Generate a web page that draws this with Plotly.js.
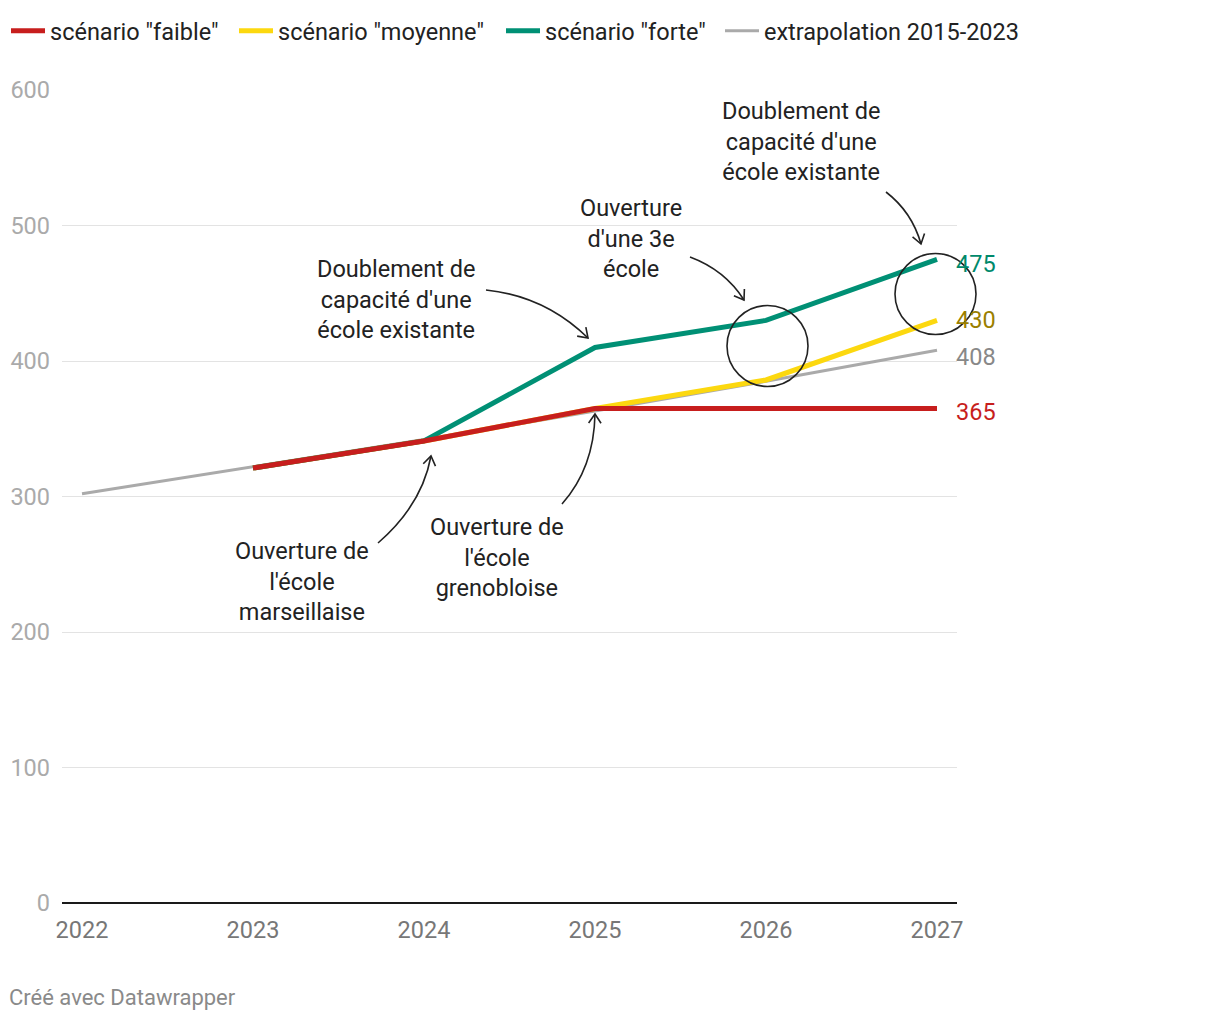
<!DOCTYPE html>
<html>
<head>
<meta charset="utf-8">
<script src="https://cdn.plot.ly/plotly-3.0.1.min.js"></script>
<style>
  html, body { margin: 0; padding: 0; background: #fff; }
  #chart { width: 1220px; height: 1020px; }
</style>
</head>
<body>
<div id="chart"></div>
<script>
// ---------- data ----------
const years = [2022, 2023, 2024, 2025, 2026, 2027];
const yearLabels = ["2022", "2023", "2024", "2025", "2026", "2027"];

const scenarioYears = [2023, 2024, 2025, 2026, 2027];
const faible   = [321, 341, 365, 365, 365];
const moyenne  = [321, 341, 365, 386, 430];
const forte    = [321, 341, 410, 430, 475];
const extrapolation = [302, 322, 342, 363, 385, 408];

const yTicks = [0, 100, 200, 300, 400, 500, 600];

const seriesNames = ['scénario "faible"', 'scénario "moyenne"', 'scénario "forte"', 'extrapolation 2015-2023'];
const endLabels = ["365", "430", "475", "408"];

const noteTexts = [
  "Doublement de<br>capacité d'une<br>école existante",
  "Ouverture<br>d'une 3e<br>école",
  "Doublement de<br>capacité d'une<br>école existante",
  "Ouverture de<br>l'école<br>marseillaise",
  "Ouverture de<br>l'école<br>grenobloise"
];

// ---------- geometry helpers (pixel -> paper) ----------
const M = { l: 62, r: 263, t: 90, b: 117, autoexpand: false };
const W = 1220, H = 1020;
const plotW = W - M.l - M.r, plotH = H - M.t - M.b;
const xRange = [2022 - 20 / 171, 2027 + 20 / 171];
const yRange = [0, 600];
const px = p => (p - M.l) / plotW;
const py = p => (H - M.b - p) / plotH;

const COLORS = { faible: "#c71e1d", moyenne: "#fcd80f", forte: "#009075", extra: "#aaaaaa" };
const LABELCOLORS = ["#c71e1d", "#9b7f00", "#00896b", "#888888"];
const FONT = "Roboto, 'Noto Sans', sans-serif";

// ---------- traces ----------
const traces = [
  { x: years, y: extrapolation, name: seriesNames[3], legend: "legend4",
    mode: "lines", line: { color: COLORS.extra, width: 3 } },
  { x: scenarioYears, y: moyenne, name: seriesNames[1], legend: "legend2",
    mode: "lines", line: { color: COLORS.moyenne, width: 5 } },
  { x: scenarioYears, y: forte, name: seriesNames[2], legend: "legend3",
    mode: "lines", line: { color: COLORS.forte, width: 5 } },
  { x: scenarioYears, y: faible, name: seriesNames[0], legend: "legend",
    mode: "lines", line: { color: COLORS.faible, width: 5 } }
];
traces.forEach(t => { t.hoverinfo = "skip"; t.line.shape = "linear"; });

// ---------- annotations ----------
const annotations = [];
const lastVals = [faible[4], moyenne[4], forte[4], extrapolation[5]];
const labelNudge = [-4, 0, -5, -7];
lastVals.forEach((v, i) => {
  annotations.push({
    x: years[5], y: v, xref: "x", yref: "y", text: endLabels[i],
    showarrow: false, xanchor: "left", yanchor: "middle", xshift: 17, yshift: labelNudge[i],
    font: { family: FONT, size: 23.5, color: LABELCOLORS[i] }
  });
});

const notePos = [[801, 141], [631, 239], [396, 299], [302, 581], [497, 557]];
notePos.forEach((p, i) => {
  annotations.push({
    x: px(p[0]), y: py(p[1]), xref: "paper", yref: "paper", text: noteTexts[i],
    showarrow: false, xanchor: "center", yanchor: "middle", align: "center",
    font: { family: FONT, size: 23.5, color: "#222222" }
  });
});

annotations.push({
  x: px(7), y: py(997), xref: "paper", yref: "paper", text: "Créé avec Datawrapper",
  showarrow: false, xanchor: "left", yanchor: "middle",
  font: { family: FONT, size: 22, color: "#8a8a8a" }
});

// ---------- shapes: curved arrows + circles ----------
const arrows = [
  // [start, control, end] in pixels
  [[886, 192], [912, 212], [921, 244]],
  [[690, 257], [725, 270], [744, 300]],
  [[486, 290], [545, 296], [588, 338]],
  [[378, 543], [422, 505], [431, 456]],
  [[562, 504], [594, 468], [595, 414]]
];
const shapes = [];
const lineStyle = { color: "#222222", width: 1.6 };
arrows.forEach(a => {
  const [s, c, e] = a;
  shapes.push({
    type: "path", xref: "paper", yref: "paper", layer: "above",
    path: `M ${px(s[0])},${py(s[1])} Q ${px(c[0])},${py(c[1])} ${px(e[0])},${py(e[1])}`,
    line: lineStyle
  });
  let vx = e[0] - c[0], vy = e[1] - c[1];
  const len = Math.hypot(vx, vy); vx /= len; vy /= len;
  const L = 11, ang = 0.6;
  const pts = [ang, -ang].map(t => {
    const rx = -(vx * Math.cos(t) - vy * Math.sin(t));
    const ry = -(vx * Math.sin(t) + vy * Math.cos(t));
    return [e[0] + rx * L, e[1] + ry * L];
  });
  shapes.push({
    type: "path", xref: "paper", yref: "paper", layer: "above",
    path: `M ${px(pts[0][0])},${py(pts[0][1])} L ${px(e[0])},${py(e[1])} L ${px(pts[1][0])},${py(pts[1][1])}`,
    line: lineStyle
  });
});

const circles = [[767.5, 346, 40.5], [935.5, 294, 40.5]];
circles.forEach(c => {
  shapes.push({
    type: "circle", xref: "paper", yref: "paper", layer: "above",
    xsizemode: "pixel", ysizemode: "pixel",
    xanchor: px(c[0]), yanchor: py(c[1]),
    x0: -c[2], x1: c[2], y0: -c[2], y1: c[2],
    line: { color: "#222222", width: 1.6 }
  });
});

// ---------- layout ----------
const legendBase = {
  orientation: "h", xanchor: "left",
  y: 1 + (M.t - 9) / plotH, yanchor: "top",
  font: { family: FONT, size: 23.5, color: "#222" },
  itemwidth: 34, bgcolor: "rgba(0,0,0,0)"
};
const legendLefts = [6, 234, 501, 720];

const layout = {
  width: W, height: H,
  margin: M,
  paper_bgcolor: "#ffffff", plot_bgcolor: "#ffffff",
  font: { family: FONT, color: "#222" },
  showlegend: true,
  legend:  Object.assign({}, legendBase, { x: px(legendLefts[0]) }),
  legend2: Object.assign({}, legendBase, { x: px(legendLefts[1]) }),
  legend3: Object.assign({}, legendBase, { x: px(legendLefts[2]) }),
  legend4: Object.assign({}, legendBase, { x: px(legendLefts[3]) }),
  xaxis: {
    range: xRange, tickvals: years, ticktext: yearLabels,
    showgrid: false, zeroline: false, showline: false, ticks: "",
    tickfont: { family: FONT, size: 23.5, color: "#777777" },
    ticklabelstandoff: 10, fixedrange: true, automargin: false
  },
  yaxis: {
    range: yRange, tickvals: yTicks, ticktext: yTicks.map(String),
    showgrid: true, gridcolor: "#e3e3e3", gridwidth: 1,
    zeroline: true, zerolinecolor: "#1a1a1a", zerolinewidth: 2,
    showline: false, ticks: "",
    tickfont: { family: FONT, size: 23.5, color: "#aaaaaa" },
    ticklabelstandoff: 11, fixedrange: true, automargin: false
  },
  annotations: annotations,
  shapes: shapes
};

Plotly.newPlot("chart", traces, layout, { staticPlot: true, displayModeBar: false });
</script>
</body>
</html>
